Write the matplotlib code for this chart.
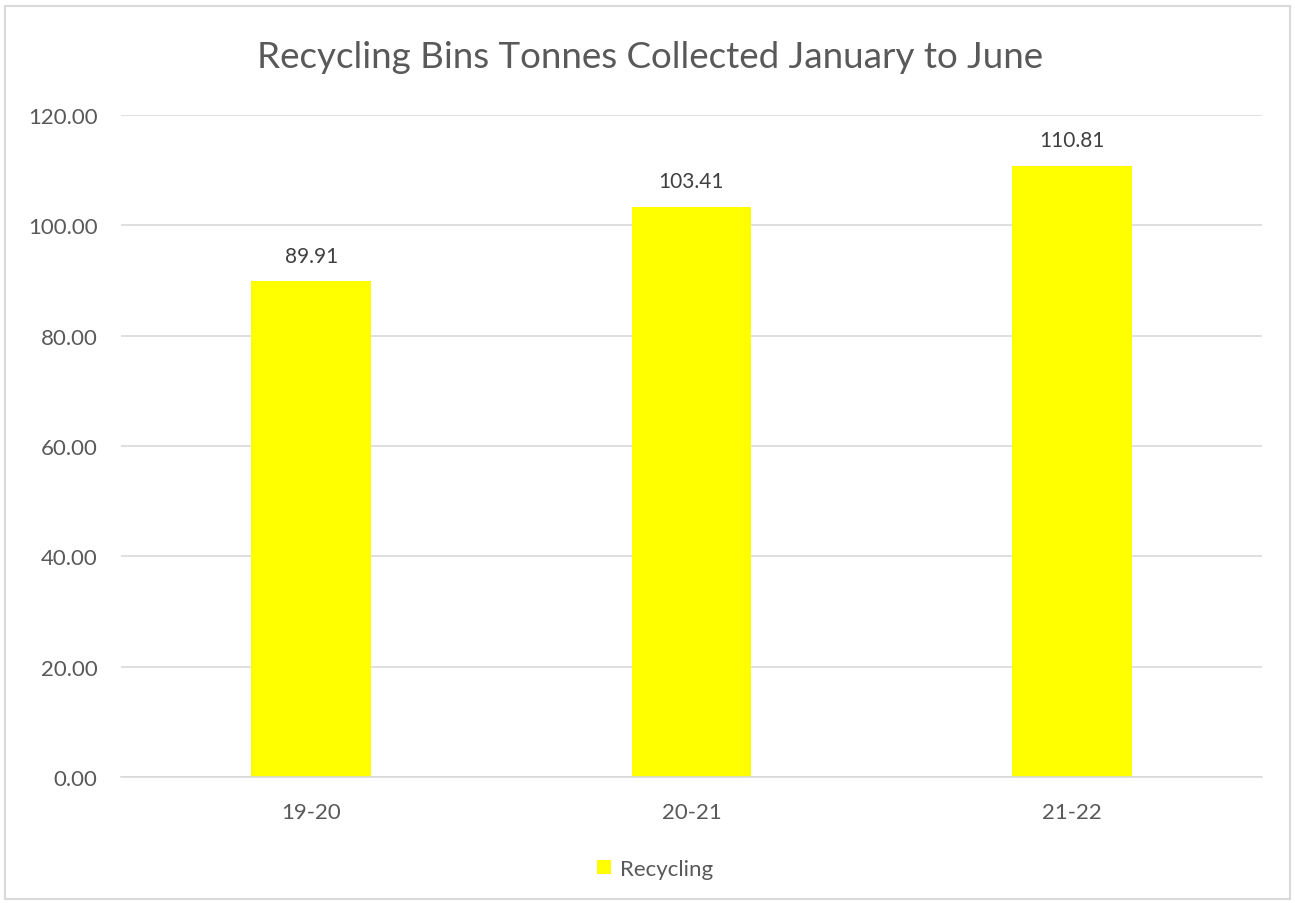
import matplotlib
matplotlib.use("Agg")
import matplotlib.pyplot as plt
from matplotlib.patches import Rectangle

categories = ["19-20", "20-21", "21-22"]
values = [89.91, 103.41, 110.81]
yticks = [0, 20, 40, 60, 80, 100, 120]
series_name = "Recycling"
title = "Recycling Bins Tonnes Collected January to June"

plt.rcParams['font.family'] = ['Lato', 'DejaVu Sans']
txt = '#595959'
W, H = 1295, 904
fig = plt.figure(figsize=(W/100, H/100), dpi=100)
fig.patch.set_facecolor('white')
fig.add_artist(Rectangle((5/W, 1-900/H), (1290-5)/W, (900-7)/H, transform=fig.transFigure,
                         fill=False, edgecolor='#d9d9d9', linewidth=1.5))

left, right, top, bottom = 121, 1262, 116, 778
ax = fig.add_axes([left/W, 1-bottom/H, (right-left)/W, (bottom-top)/H])
x = range(len(categories))
ax.bar(x, values, width=0.315, color='#ffff00', zorder=2, label=series_name)
ax.set_xlim(-0.5, len(categories)-0.5)
ax.set_ylim(0, 120)
ax.set_yticks(yticks)
ax.set_yticklabels([f"{v:.2f}" for v in yticks], color=txt, fontsize=16)
ax.set_xticks(list(x))
ax.set_xticklabels(categories, color=txt, fontsize=16)
ax.tick_params(axis='both', length=0)
ax.tick_params(axis='y', pad=17)
ax.tick_params(axis='x', pad=18)
ax.grid(axis='y', color='#d9d9d9', linewidth=1.2, zorder=0)
for s in ['top', 'right', 'left']:
    ax.spines[s].set_visible(False)
ax.spines['bottom'].set_color('#d9d9d9')
ax.spines['bottom'].set_linewidth(1.2)
for xi, v in zip(x, values):
    ax.annotate(f"{v:.2f}", (xi, v), xytext=(0, 11), textcoords='offset points',
                ha='center', va='bottom', color='#404040', fontsize=15)
fig.text(650/W, 1-58/H, title, ha='center', va='center', color=txt, fontsize=26.5)
leg = fig.legend(loc='center', bbox_to_anchor=(655/W, 1-870/H), frameon=False,
                 fontsize=16, handlelength=0.6, handleheight=0.6, handletextpad=0.4)
for t in leg.get_texts():
    t.set_color(txt)
fig.savefig('out.png', dpi=100)
